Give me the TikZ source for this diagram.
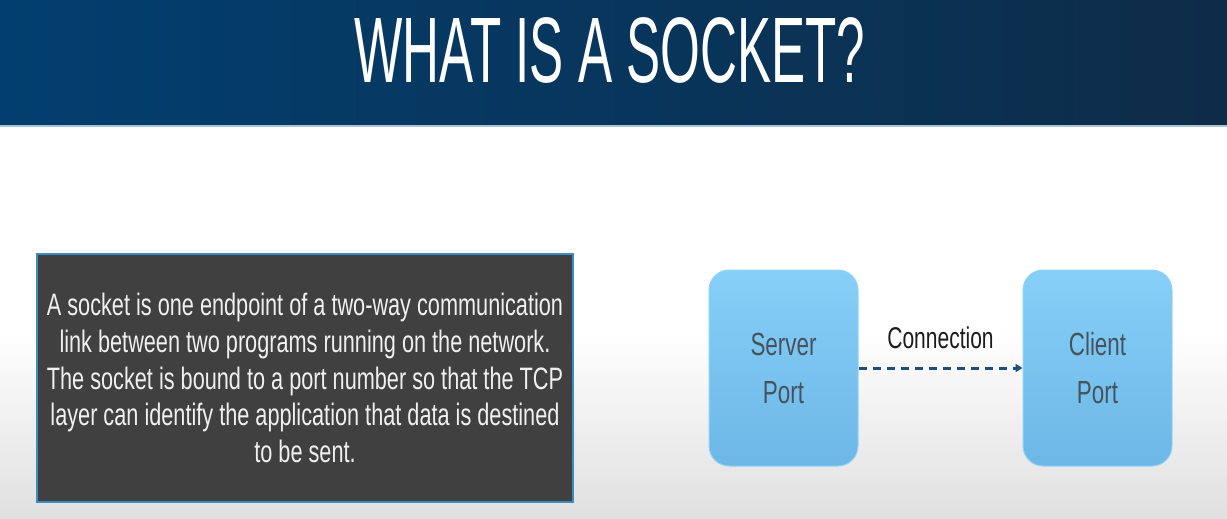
\documentclass[tikz,border=0pt]{standalone}
\usepackage{fontspec}
\usetikzlibrary{arrows.meta}
\newfontfamily\titlefont{Liberation Sans}[FakeStretch=0.55]
\newfontfamily\bodyfont{Liberation Sans}[FakeStretch=0.70]
\definecolor{headL}{HTML}{023F70}
\definecolor{headR}{HTML}{0E2C48}
\definecolor{headEdge}{HTML}{A9C3D6}
\definecolor{panel}{HTML}{404040}
\definecolor{panelEdge}{HTML}{3D8CC0}
\definecolor{portTop}{HTML}{86CFF8}
\definecolor{portBot}{HTML}{6DB7E7}
\definecolor{portEdge}{HTML}{93D3F6}
\definecolor{portText}{HTML}{46535E}
\definecolor{linkBlue}{HTML}{1F4E7A}
\definecolor{labelInk}{HTML}{1C1C1C}
\definecolor{floor}{HTML}{E0E0E0}
\tikzset{
  textpanel/.style={draw=panelEdge, line width=2pt, fill=panel, text=white!94!black,
    minimum width=536pt, minimum height=248pt, inner sep=0pt, align=center,
    font=\bodyfont\fontsize{31}{36.7}\selectfont},
  portbox/.style={draw=portEdge, line width=1pt, rounded corners=20pt,
    top color=portTop, bottom color=portBot, text=portText,
    minimum width=149pt, minimum height=196pt, inner sep=0pt, align=center,
    font=\bodyfont\fontsize{32}{48}\selectfont},
  link/.style={draw=linkBlue, line width=3pt, dash pattern=on 8pt off 6pt,
    -{Triangle[length=7pt,width=8pt]}},
  linklabel/.style={text=labelInk, font=\bodyfont\fontsize{30}{34}\selectfont},
}
\begin{document}
\begin{tikzpicture}[x=1pt,y=-1pt]
\useasboundingbox (0,0) rectangle (1227,519);
% page background: white upper part fading to light grey at the bottom
\fill[white] (0,126) rectangle (1227,330);
\shade[top color=white, bottom color=floor] (0,329) rectangle (1227,519);
% header band
\shade[left color=headL, right color=headR] (0,0) rectangle (1227,125);
\draw[headEdge, line width=2pt] (0,126) -- (1227,126);
\node[anchor=base, text=white, font=\titlefont\fontsize{93}{100}\selectfont, inner sep=0pt]
  (title) at (610,82) {WHAT IS A SOCKET?};
% description panel
\node[textpanel] (desc) at (305,378)
  {A socket is one endpoint of a two-way communication\\
   link between two programs running on the network.\\
   The socket is bound to a port number so that the TCP\\
   layer can identify the application that data is destined\\
   to be sent.};
% server and client ports
\node[portbox] (server) at (783.5,368) {Server\\Port};
\node[portbox] (client) at (1097.5,368) {Client\\Port};
\draw[link] (server.east) -- (client.west)
  node[midway, anchor=base, yshift=20pt, linklabel] (conn) {Connection};
\end{tikzpicture}
\end{document}
